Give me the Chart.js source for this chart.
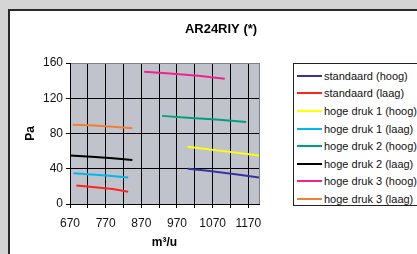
<!DOCTYPE html>
<html>
<head>
<meta charset="utf-8">
<script src="https://cdn.jsdelivr.net/npm/chart.js@4"></script>
<style>
  html, body { margin: 0; padding: 0; }
  body { width: 417px; height: 254px; overflow: hidden; background: #d5d5d5; position: relative; font-family: "Liberation Sans", Arial, sans-serif; }
  #panel { position: absolute; left: 8px; top: 9px; width: 430px; height: 260px; background: #fff; border-left: 2px solid #2a2a2a; border-top: 2px solid #2a2a2a; }
  #chart { position: absolute; left: 0; top: 0; }
  #legend { position: absolute; left: 283px; top: 52px; width: 130px; height: 143px; border: 1px solid #222; background: #fff; box-sizing: border-box; padding-top: 3px; }
  .row { height: 17.6px; display: flex; align-items: center; font-size: 11px; color: #111; white-space: nowrap; }
  .swatch { width: 25px; height: 2px; margin-left: 3px; margin-right: 2px; }
</style>
</head>
<body>
<div id="panel">
  <canvas id="chart" width="422" height="243"></canvas>
  <div id="legend"></div>
</div>
<script>
// series names and colours
const labels = [
  "standaard (hoog)", "standaard (laag)",
  "hoge druk 1 (hoog)", "hoge druk 1 (laag)",
  "hoge druk 2 (hoog)", "hoge druk 2 (laag)",
  "hoge druk 3 (hoog)", "hoge druk 3 (laag)"
];
const colors = ["#34349c", "#ff2424", "#ffff00", "#00b8f0", "#00a07c", "#000000", "#ee2290", "#f08034"];

// airflow (m³/u) per series
const xs = [
  [1000, 1050, 1100, 1150, 1200],
  [688, 740, 790, 833],
  [1000, 1100, 1200],
  [680, 730, 780, 833],
  [928, 1000, 1080, 1164],
  [670, 730, 790, 845],
  [878, 950, 1030, 1104],
  [678, 740, 800, 845]
];
// pressure (Pa) per series
const ys = [
  [40, 38, 35.5, 33, 30],
  [21, 19, 17, 14],
  [65, 60, 55],
  [35, 33.5, 32, 30],
  [100, 98, 96, 93],
  [55, 53.5, 52, 50],
  [150, 148, 145.5, 142],
  [90, 89, 87.5, 86]
];

// axis ticks
const xTicks = [670, 720, 770, 820, 870, 920, 970, 1020, 1070, 1120, 1170];
const yTicks = [0, 40, 80, 120, 160];

const datasets = labels.map((name, i) => ({
  label: name,
  data: xs[i].map((x, j) => ({ x: x, y: ys[i][j] })),
  borderColor: colors[i],
  backgroundColor: colors[i],
  borderWidth: 2,
  pointRadius: 0,
  tension: 0
}));

// grey plot area + right edge, title centred over whole panel
const plotBox = {
  id: "plotBox",
  afterLayout(chart) {
    const t = chart.titleBlock;
    if (t) { t.left = 0; t.right = chart.width; t.width = chart.width; }
  },
  beforeDraw(chart) {
    const a = chart.chartArea, ctx = chart.ctx;
    ctx.save();
    ctx.fillStyle = "#c0c3cb";
    ctx.fillRect(a.left, a.top, a.right - a.left, a.bottom - a.top);
    ctx.restore();
  },
  afterDraw(chart) {
    const a = chart.chartArea, ctx = chart.ctx;
    ctx.save();
    ctx.strokeStyle = "#808080";
    ctx.lineWidth = 1;
    ctx.beginPath();
    ctx.moveTo(a.right + 0.5, a.top);
    ctx.lineTo(a.right + 0.5, a.bottom);
    ctx.stroke();
    ctx.restore();
  }
};

const font = "'Liberation Sans', Arial, sans-serif";

const chart = new Chart(document.getElementById("chart"), {
  type: "line",
  data: { datasets: datasets },
  options: {
    responsive: false,
    animation: false,
    devicePixelRatio: 1,
    layout: { padding: { left: 0, right: 173, top: 0, bottom: 0 } },
    plugins: {
      legend: { display: false },
      tooltip: { enabled: false },
      title: {
        display: true,
        text: "AR24RIY (*)",
        color: "#000",
        font: { family: font, size: 13, weight: "bold" },
        padding: { top: 11, bottom: 25.4 }
      }
    },
    scales: {
      x: {
        type: "linear",
        min: 670,
        max: 1200,
        afterBuildTicks: (s) => { s.ticks = xTicks.map(v => ({ value: v })); },
        afterFit: (s) => { s.height = 50; },
        grid: { color: "#000", tickLength: 4, tickColor: "#000" },
        border: { color: "#000" },
        ticks: {
          autoSkip: false,
          maxRotation: 0,
          padding: 8,
          color: "#111",
          font: { family: font, size: 12 },
          callback: (v) => ((v - 670) % 100 === 0 ? v : "")
        },
        title: {
          display: true,
          text: "m³/u",
          color: "#000",
          font: { family: font, size: 12, weight: "bold" },
          padding: { top: 4, bottom: 4 }
        }
      },
      y: {
        min: 0,
        max: 160,
        afterBuildTicks: (s) => { s.ticks = yTicks.map(v => ({ value: v })); },
        afterFit: (s) => { s.width = 60; },
        grid: {
          color: (c) => (c.tick && c.tick.value === 160 ? "#808080" : "#000"),
          tickLength: 4,
          tickColor: "#000"
        },
        border: { color: "#000" },
        ticks: { padding: 3, color: "#111", font: { family: font, size: 12 } },
        title: {
          display: true,
          text: "Pa",
          color: "#000",
          font: { family: font, size: 12, weight: "bold" },
          padding: { top: 13, bottom: 4 }
        }
      }
    }
  },
  plugins: [plotBox]
});

// legend built from the same series
const legend = document.getElementById("legend");
chart.data.datasets.forEach(ds => {
  const row = document.createElement("div");
  row.className = "row";
  const sw = document.createElement("span");
  sw.className = "swatch";
  sw.style.background = ds.borderColor;
  const txt = document.createElement("span");
  txt.textContent = ds.label;
  row.appendChild(sw);
  row.appendChild(txt);
  legend.appendChild(row);
});
</script>
</body>
</html>
